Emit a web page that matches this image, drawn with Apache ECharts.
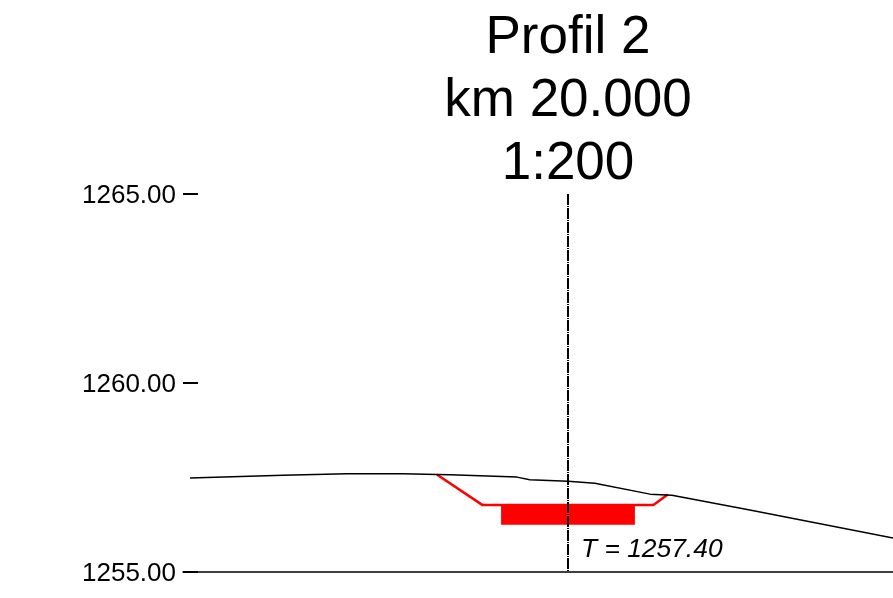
<!DOCTYPE html>
<html>
<head>
<meta charset="utf-8">
<title>Profil 2</title>
<style>
    html, body { margin: 0; padding: 0; background: #fff; }
    #chart { width: 893px; height: 598px; }
</style>
<script src="https://cdn.jsdelivr.net/npm/echarts@6/dist/echarts.min.js"></script>
</head>
<body>
<div id="chart"></div>
<script>
// offset from the axis in metres, elevation in metres
var groundOffset = [-10.00, -7.54, -5.85, -4.37, -3.47, -3.12, -1.35, -1.01, 0, 0.71, 2.17, 2.75, 4.81, 8.60];
var groundLevel = [1257.49, 1257.56, 1257.60, 1257.60, 1257.58, 1257.57, 1257.51, 1257.44, 1257.40, 1257.35, 1257.06, 1257.03, 1256.64, 1255.90];
var ditchOffset = [-3.47, -2.26, 2.26, 2.64];
var ditchLevel = [1257.58, 1256.77, 1256.77, 1257.05];
var slabOffset = [-1.77, 1.77];
var slabLevel = [1256.77, 1256.25];
var axisOffset = [0, 0];
var axisLevel = [1265, 1255];
var labelPoint = [0.33, 1255.58];
var labelText = 'T = 1257.40';
var titleText = 'Profil 2\nkm 20.000\n1:200';
var offsetRange = [-10.185, 8.598];
var levelRange = [1255, 1265];
var levelStep = 5;

function pairs(xs, ys) {
    return xs.map(function (x, i) { return [x, ys[i]]; });
}

var fontName = '"Liberation Sans", Arial, sans-serif';
var chart = echarts.init(document.getElementById('chart'), null, { renderer: 'canvas' });
chart.setOption({
    animation: false,
    backgroundColor: '#fff',
    title: {
        text: titleText,
        left: 563,
        top: 2,
        textAlign: 'center',
        textStyle: {
            color: '#000',
            fontFamily: fontName,
            fontSize: 53,
            fontWeight: 'normal',
            lineHeight: 63
        }
    },
    grid: { left: 183, right: 0, top: 194, bottom: 26 },
    xAxis: {
        type: 'value',
        min: offsetRange[0],
        max: offsetRange[1],
        axisLine: { show: true, onZero: false, lineStyle: { color: '#000', width: 1.5 } },
        axisTick: { show: false },
        axisLabel: { show: false },
        splitLine: { show: false }
    },
    yAxis: {
        type: 'value',
        min: levelRange[0],
        max: levelRange[1],
        interval: levelStep,
        axisLine: { show: false, onZero: false },
        axisTick: { show: true, inside: true, length: 15, lineStyle: { color: '#000', width: 2 } },
        axisLabel: {
            show: true,
            margin: 7,
            color: '#000',
            fontFamily: fontName,
            fontSize: 26,
            verticalAlign: 'top',
            lineHeight: 4,
            formatter: function (v) { return v.toFixed(2); }
        },
        splitLine: { show: false }
    },
    series: [
        {
            name: 'ditch',
            type: 'line',
            data: pairs(ditchOffset, ditchLevel),
            symbol: 'none',
            z: 3,
            lineStyle: { color: '#f00', width: 2.5 },
            markArea: {
                silent: true,
                itemStyle: { color: '#f00', opacity: 1 },
                data: [[
                    { coord: [slabOffset[0], slabLevel[0]] },
                    { coord: [slabOffset[1], slabLevel[1]] }
                ]]
            }
        },
        {
            name: 'ground',
            type: 'line',
            data: pairs(groundOffset, groundLevel),
            symbol: 'none',
            z: 4,
            lineStyle: { color: '#000', width: 1.5 }
        },
        {
            name: 'axis',
            type: 'line',
            data: pairs(axisOffset, axisLevel),
            symbol: 'none',
            z: 5,
            lineStyle: { color: '#000', width: 2, type: [11, 1, 1, 1] }
        },
        {
            name: 'label',
            type: 'scatter',
            data: [labelPoint],
            symbolSize: 1,
            itemStyle: { color: 'transparent' },
            silent: true,
            label: {
                show: true,
                position: 'right',
                distance: 0,
                formatter: labelText,
                color: '#000',
                opacity: 1,
                fontFamily: fontName,
                fontSize: 26.4,
                fontStyle: 'italic'
            }
        }
    ]
});
</script>
</body>
</html>
